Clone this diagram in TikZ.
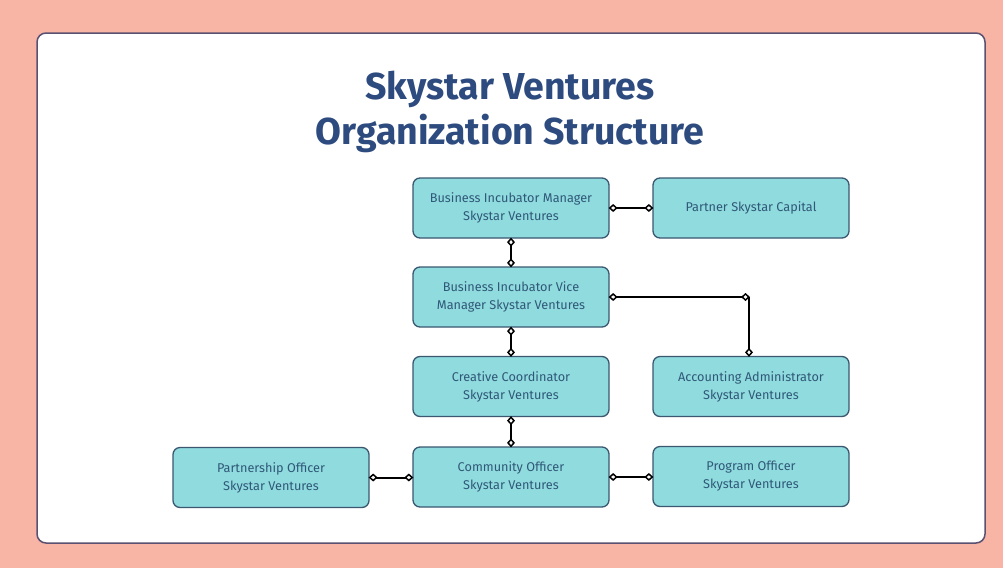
\documentclass[tikz,border=0pt]{standalone}
\usepackage{fontspec}
\setmainfont{Fira Sans}
\usetikzlibrary{arrows.meta}
\definecolor{bgsalmon}{HTML}{F8B5A6}
\definecolor{panelborder}{HTML}{5A5070}
\definecolor{titleblue}{HTML}{2D4B7E}
\definecolor{boxfill}{HTML}{90DBDE}
\definecolor{boxborder}{HTML}{3B5870}
\definecolor{boxtext}{HTML}{2F5878}
\tikzset{
  rolebox/.style={draw=boxborder, line width=1.3pt, fill=boxfill, rounded corners=7pt,
    minimum width=196pt, minimum height=60pt, align=center, text=boxtext,
    font=\fontsize{12.7}{18}\selectfont, inner sep=0pt},
  tipd/.tip={Diamond[open,length=9pt,width=8pt,line width=1.5pt]},
  link/.style={line width=2pt, black, tipd-tipd, shorten <=-1pt, shorten >=-1pt},
  linkend/.style={line width=2pt, black, -tipd, shorten >=-1pt},
}
\begin{document}
\begin{tikzpicture}[x=1pt,y=-1pt]
\useasboundingbox (0,0) rectangle (1003,568);
\fill[bgsalmon] (0,0) rectangle (1003,568);
\draw[panelborder, line width=1.5pt, fill=white, rounded corners=9pt] (37,33) rectangle (985,543);
\node[titleblue, font=\fontsize{37.5}{45}\selectfont\bfseries, align=center] (title) at (510,112) {Skystar Ventures\\Organization Structure};

\node[rolebox] (bim) at (511,208) {Business Incubator Manager\\Skystar Ventures};
\node[rolebox] (partner) at (751,208) {Partner Skystar Capital};
\node[rolebox] (bivm) at (511,297) {Business Incubator Vice\\Manager Skystar Ventures};
\node[rolebox] (cc) at (511,386.5) {Creative Coordinator\\Skystar Ventures};
\node[rolebox] (aa) at (751,386.5) {Accounting Administrator\\Skystar Ventures};
\node[rolebox] (po) at (271,477.5) {Partnership Officer\\Skystar Ventures};
\node[rolebox] (co) at (511,477) {Community Officer\\Skystar Ventures};
\node[rolebox] (prog) at (751,476.5) {Program Officer\\Skystar Ventures};

\coordinate (corner) at (749,297);

\draw[link] (bim.east) -- (partner.west);
\draw[link] (bim.south) -- (bivm.north);
\draw[link] (bivm.east) -- (corner);
\draw[linkend] (corner) -- (corner |- aa.north);
\draw[link] (bivm.south) -- (cc.north);
\draw[link] (cc.south) -- (co.north);
\draw[link] (po.east) -- (po.east -| co.west);
\draw[link] (co.east) -- (co.east -| prog.west);
\end{tikzpicture}
\end{document}
